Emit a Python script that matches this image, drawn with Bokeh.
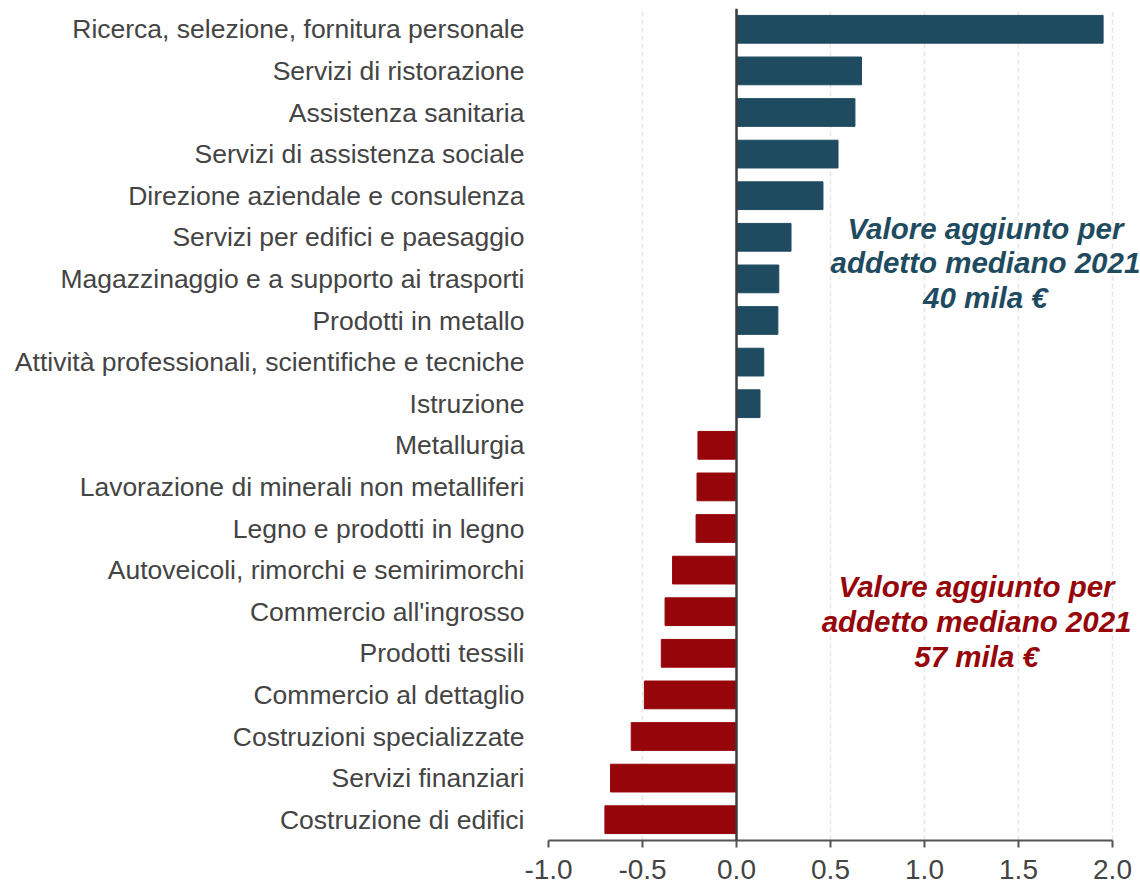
from bokeh.plotting import figure
from bokeh.models import (FactorRange, Range1d, ColumnDataSource, FixedTicker,
                          PrintfTickFormatter, Span, Label)
from bokeh.embed import file_html
from bokeh.resources import INLINE

# ---------------- data ----------------
categories = [
    "Ricerca, selezione, fornitura personale",
    "Servizi di ristorazione",
    "Assistenza sanitaria",
    "Servizi di assistenza sociale",
    "Direzione aziendale e consulenza",
    "Servizi per edifici e paesaggio",
    "Magazzinaggio e a supporto ai trasporti",
    "Prodotti in metallo",
    "Attività professionali, scientifiche e tecniche",
    "Istruzione",
    "Metallurgia",
    "Lavorazione di minerali non metalliferi",
    "Legno e prodotti in legno",
    "Autoveicoli, rimorchi e semirimorchi",
    "Commercio all'ingrosso",
    "Prodotti tessili",
    "Commercio al dettaglio",
    "Costruzioni specializzate",
    "Servizi finanziari",
    "Costruzione di edifici",
]
values = [1.95, 0.665, 0.63, 0.54, 0.46, 0.29, 0.225, 0.22, 0.145, 0.125,
          -0.205, -0.21, -0.215, -0.34, -0.38, -0.40, -0.49, -0.56, -0.67, -0.70]
x_ticks = [-1.0, -0.5, 0.0, 0.5, 1.0, 1.5, 2.0]
note_pos = ["Valore aggiunto per", "addetto mediano 2021", "40 mila €"]
note_neg = ["Valore aggiunto per", "addetto mediano 2021", "57 mila €"]

# ---------------- style ----------------
BLUE = "#1f4b60"
RED = "#95050a"
TXT = "#444444"
FONT = "Liberation Sans"

colors = [BLUE if v > 0 else RED for v in values]
src = ColumnDataSource(dict(cat=categories, val=values, color=colors))

W, H = 1140, 891
LEFT = 548
# pixels per unit so that the axis from -1 to 2 spans 564 px; frame runs to the right edge
x_end = -1.0 + 3.0 * (W - LEFT) / 564.0

p = figure(width=W, height=H,
           y_range=FactorRange(factors=categories[::-1]),
           x_range=Range1d(-1.0, x_end),
           output_backend="svg", toolbar_location=None,
           min_border_left=LEFT, min_border_right=0,
           min_border_top=8, min_border_bottom=51)
p.outline_line_color = None
p.background_fill_color = "white"
p.border_fill_color = "white"

p.hbar(y="cat", left=0, right="val", height=0.667, color="color", source=src)

# grid
p.ygrid.grid_line_color = None
p.xgrid.ticker = FixedTicker(ticks=x_ticks)
p.xgrid.grid_line_color = "#e6e6e6"
p.xgrid.grid_line_dash = "5 3"
p.xgrid.grid_line_width = 1.5

# zero line
p.add_layout(Span(location=0, dimension="height", line_color="#3d3d3d", line_width=2.5))

# x axis
xa = p.xaxis[0]
xa.bounds = (x_ticks[0], x_ticks[-1])
xa.ticker = FixedTicker(ticks=x_ticks)
xa.formatter = PrintfTickFormatter(format="%.1f")
xa.axis_line_color = "#555555"
xa.axis_line_width = 2
xa.major_tick_line_color = "#555555"
xa.major_tick_line_width = 2
xa.major_tick_out = 7
xa.major_tick_in = 0
xa.minor_tick_line_color = None
xa.major_label_text_font = FONT
xa.major_label_text_font_size = "28px"
xa.major_label_text_color = TXT
xa.major_label_standoff = 12

# y axis
ya = p.yaxis[0]
ya.axis_line_color = None
ya.major_tick_line_color = None
ya.minor_tick_line_color = None
ya.major_tick_out = 0
ya.major_label_standoff = 24
ya.major_label_text_font = FONT
ya.major_label_text_font_size = "26.5px"
ya.major_label_text_color = TXT

# annotations (anchored at the centre of a category row)
def cat_y(idx):
    return len(categories) - idx - 0.5

def add_note(lines, x, idx, offsets, color):
    for t, off in zip(lines, offsets):
        p.add_layout(Label(x=x, y=cat_y(idx), text=t, y_offset=off,
                           text_align="center", text_baseline="alphabetic",
                           text_font=FONT, text_font_style="bold italic",
                           text_font_size="29.5px", text_color=color))

add_note(note_pos, 1.324, 6, [50.6, 16.6, -18.4], BLUE)
add_note(note_neg, 1.277, 14, [25, -10, -45], RED)

open("out.html", "w").write(file_html(p, INLINE))
